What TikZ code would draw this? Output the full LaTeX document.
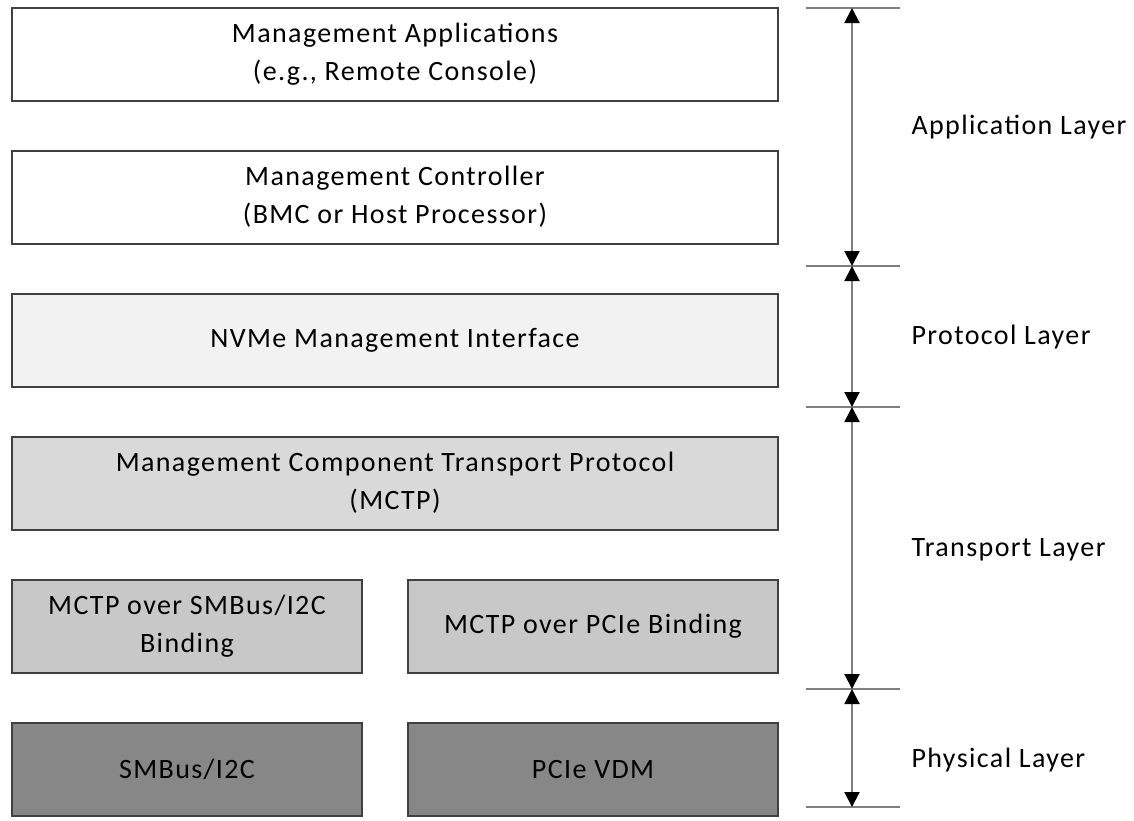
\documentclass[tikz,border=0pt]{standalone}
\usepackage{fontspec}
\setmainfont[LetterSpace=5]{Carlito}
\usetikzlibrary{arrows.meta,positioning}

\definecolor{boxline}{HTML}{404040}
\definecolor{dimline}{HTML}{7F7F7F}
\definecolor{protofill}{HTML}{F2F2F2}
\definecolor{mctpfill}{HTML}{D9D9D9}
\definecolor{bindfill}{HTML}{C8C8C8}
\definecolor{physfill}{HTML}{878787}

\begin{document}
\begin{tikzpicture}[
      x = 1pt, y = -1pt, % pixel grid, y pointing down
      > = {Triangle[width=15pt,length=15pt,color=black]}, % arrow head style
      node distance = 48pt, % gap between the layer boxes
      font = \fontsize{28}{38}\selectfont
      ]

      \tikzset{layer/.style={
      draw = boxline,
      line width = 2pt,
      minimum width = 766pt,
      minimum height = 93pt,
      inner sep = 0pt,
      align = center
      }}
      \tikzset{halfA/.style={layer, minimum width = 350pt}}
      \tikzset{halfB/.style={layer, minimum width = 370pt}}
      \tikzset{tick/.style={dimline, line width = 2pt}}
      \tikzset{span/.style={dimline, line width = 2pt, <->}}

      \useasboundingbox (0,0) rectangle (1134,820);

      % stack of boxes
      \node[layer, fill=white] (app) at (395,54) {Management Applications\\(e.g., Remote Console)};
      \node[layer, fill=white] (ctrl) [below=of app] {Management Controller\\(BMC or Host Processor)};
      \node[layer, fill=protofill] (nvme) [below=of ctrl] {NVMe Management Interface};
      \node[layer, fill=mctpfill] (mctp) [below=of nvme] {Management Component Transport Protocol\\(MCTP)};
      \node[halfA, fill=bindfill] (smbind) [below=of mctp.south west, anchor=north west] {MCTP over SMBus/I2C\\Binding};
      \node[halfB, fill=bindfill] (pcibind) [below=of mctp.south east, anchor=north east] {MCTP over PCIe Binding};
      \node[halfA, fill=physfill] (smbus) [below=of smbind] {SMBus/I2C};
      \node[halfB, fill=physfill] (pcie) [below=of pcibind] {PCIe VDM};

      % layer bounds
      \coordinate (tk1) at (852,8);
      \coordinate (tk2) at (852,266);
      \coordinate (tk3) at (852,407);
      \coordinate (tk4) at (852,689);
      \coordinate (tk5) at (852,807);

      \foreach \t in {tk1,tk2,tk3,tk4,tk5}
        \draw[tick] ([xshift=-46pt]\t) -- ([xshift=48pt]\t);

      \draw[span] (tk1) -- (tk2);
      \draw[span] (tk2) -- (tk3);
      \draw[span] (tk3) -- (tk4);
      \draw[span] (tk4) -- (tk5);

      \node[anchor=west] (applyr) at (908,127) {Application Layer};
      \node[anchor=west] (protolyr) at (908,337) {Protocol Layer};
      \node[anchor=west] (translyr) at (908,550) {Transport Layer};
      \node[anchor=west] (physlyr) at (908,760) {Physical Layer};

    \end{tikzpicture}
\end{document}
